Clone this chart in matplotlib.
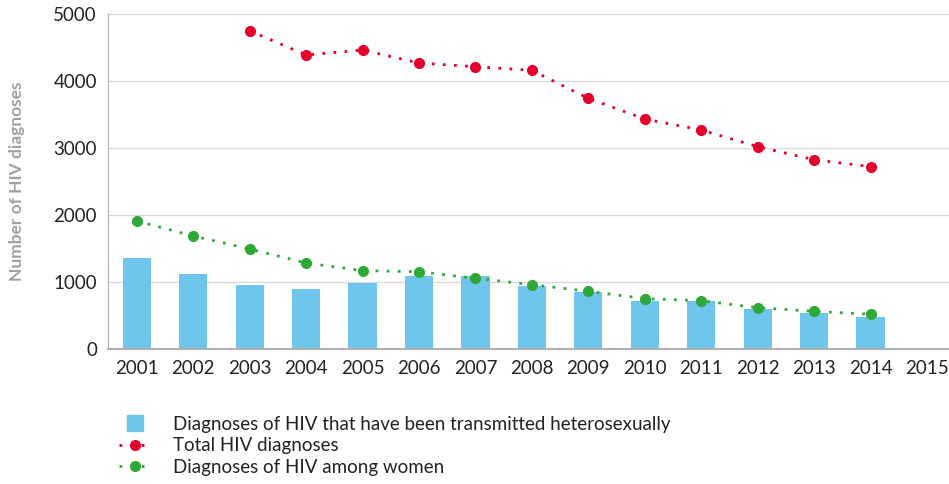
import numpy as np
import matplotlib.pyplot as plt
from matplotlib.lines import Line2D

years = list(range(2001, 2016))
bar_years = list(range(2001, 2015))
hetero = [1358, 1119, 955, 896, 985, 1090, 1090, 940, 851, 716, 716, 597, 537, 478]
total_years = list(range(2003, 2015))
total = [4750, 4388, 4463, 4269, 4214, 4159, 3741, 3433, 3269, 3020, 2826, 2721]
women_years = list(range(2001, 2015))
women = [1910, 1687, 1493, 1284, 1169, 1154, 1055, 960, 861, 751, 721, 616, 562, 518]

blue = '#6ec6ec'
red = '#e4002b'
green = '#2ea836'
dots = (0, (1, 3))

plt.rcParams['font.family'] = ['Lato', 'DejaVu Sans']

fig = plt.figure(figsize=(9.49, 4.84), dpi=100)
ax = fig.add_axes([0.1138, 0.279, 0.8862, 0.692])

ax.bar(bar_years, hetero, width=0.5, color=blue, zorder=2)
ax.plot(total_years, total, color=red, linestyle=dots, linewidth=2,
        marker='o', markersize=7, zorder=3)
ax.plot(women_years, women, color=green, linestyle=dots, linewidth=2,
        marker='o', markersize=7, zorder=3)

ax.set_xlim(2000.49, 2015.39)
ax.set_ylim(0, 5000)
ax.set_xticks(years)
ax.set_yticks(range(0, 5001, 1000))
ax.tick_params(length=0, labelsize=13.5, colors='#222222', pad=8)
ax.grid(axis='y', color='#d9d9d9', linewidth=1, zorder=0)
ax.set_axisbelow(True)
for s in ['top', 'right']:
    ax.spines[s].set_visible(False)
ax.spines['left'].set_color('#b0b0b0')
ax.spines['bottom'].set_color('#b0b0b0')
ax.spines['bottom'].set_linewidth(1.5)

ax.set_ylabel('Number of HIV diagnoses', color='#a0a0a0', fontsize=12.5,
              fontweight='bold', labelpad=20)

handles = [
    Line2D([], [], linestyle='none', marker='s', markersize=11, color=blue),
    Line2D([], [], color=red, linestyle=dots, linewidth=2, marker='o', markersize=7),
    Line2D([], [], color=green, linestyle=dots, linewidth=2, marker='o', markersize=7),
]
labels = ['Diagnoses of HIV that have been transmitted heterosexually',
          'Total HIV diagnoses',
          'Diagnoses of HIV among women']
fig.legend(handles, labels, loc='upper left', bbox_to_anchor=(0.115, 0.16),
           frameon=False, fontsize=13.5, handlelength=1.75, handletextpad=1.15,
           labelspacing=0.24, borderpad=0, labelcolor='#222222')

fig.savefig('out.png', dpi=100)
